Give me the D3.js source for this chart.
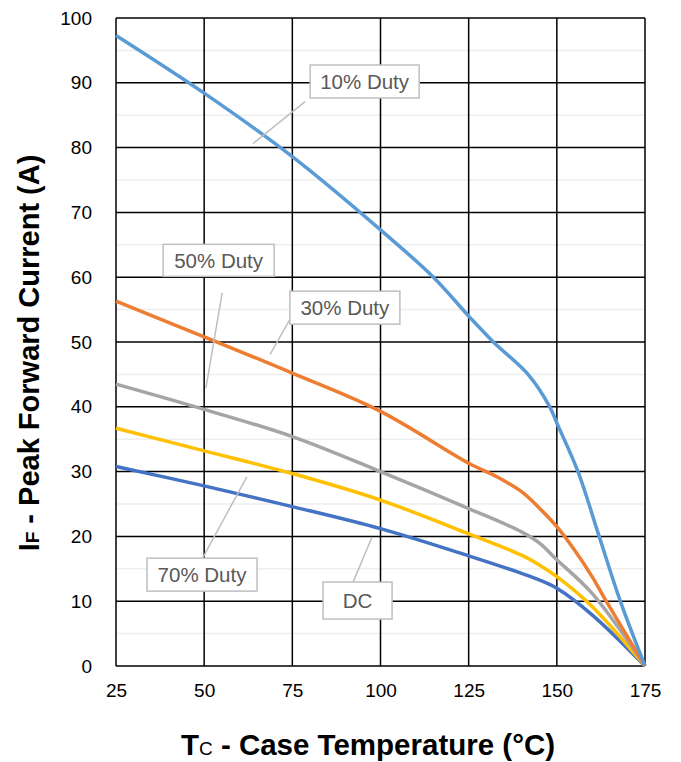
<!DOCTYPE html>
<html>
<head>
<meta charset="utf-8">
<script src="https://cdn.jsdelivr.net/npm/d3@7"></script>
<style>
  body { margin: 0; background: #fff; }
  text { font-family: Arial, "Liberation Sans", sans-serif; }
</style>
</head>
<body>
<div id="chart"></div>
<script>
// Data
const tempsLow = [25, 50, 75, 100, 125, 140, 145, 150, 160, 175];
const dcVals   = [30.8, 27.8, 24.6, 21.2, 17.0, 14.3, 13.3, 12.0, 7.9, 0];
const duty70   = [36.7, 33.2, 29.7, 25.6, 20.4, 17.1, 15.6, 13.8, 9.2, 0];
const duty30   = [43.5, 39.6, 35.4, 30.0, 24.3, 20.7, 19.0, 16.4, 11.2, 0];
const temps50  = [25, 50, 75, 100, 125, 133, 140, 145, 150, 155, 160, 164, 175];
const duty50   = [56.3, 50.8, 45.2, 39.3, 31.3, 29.2, 26.9, 24.4, 21.5, 17.9, 13.8, 10, 0];
const temps10  = [25, 50, 75, 100, 115, 125, 132, 142, 148, 150, 156, 162, 168, 175];
const duty10   = [97.3, 88.4, 78.6, 67.3, 60, 54, 50, 44.9, 40, 37.5, 30, 20, 10, 0];

const xTicks = [25, 50, 75, 100, 125, 150, 175];
const yTicks = [0, 10, 20, 30, 40, 50, 60, 70, 80, 90, 100];

const series = [
  {name: 'DC', x: tempsLow, y: dcVals, color: '#4472C4'},
  {name: '70% Duty', x: tempsLow, y: duty70, color: '#FFC000'},
  {name: '30% Duty', x: tempsLow, y: duty30, color: '#A5A5A5'},
  {name: '50% Duty', x: temps50, y: duty50, color: '#ED7D31'},
  {name: '10% Duty', x: temps10, y: duty10, color: '#5B9BD5'}
];

// Callouts: box center and leader ends, in data units; box size in px
const callouts = [
  {text: '10% Duty', cx: 95.5, cy: 90.2, w: 109, h: 33, lx0: 78.6, ly0: 87.1, lx1: 63.8, ly1: 80.6},
  {text: '50% Duty', cx: 54.1, cy: 62.6, w: 111, h: 32, lx0: 55.1, ly0: 57.6, lx1: 50.5, ly1: 42.9},
  {text: '30% Duty', cx: 89.9, cy: 55.3, w: 110, h: 33, lx0: 76.0, ly0: 55.1, lx1: 68.7, ly1: 48.1},
  {text: '70% Duty', cx: 49.4, cy: 14.1, w: 110, h: 33, lx0: 49.7, ly0: 16.8, lx1: 62.1, ly1: 29.2},
  {text: 'DC', cx: 93.5, cy: 10.1, w: 69, h: 37, lx0: 92.2, ly0: 12.9, lx1: 97.6, ly1: 19.9}
];

const margin = {top: 18, right: 36, bottom: 96, left: 116};
const W = 681, H = 762;
const width = W - margin.left - margin.right;
const height = H - margin.top - margin.bottom;

const svg = d3.select('#chart').append('svg')
    .attr('width', W)
    .attr('height', H);

const g = svg.append('g')
    .attr('transform', `translate(${margin.left},${margin.top})`);

const x = d3.scaleLinear().domain([25, 175]).range([0, width]);
const y = d3.scaleLinear().domain([0, 100]).range([height, 0]);

// Minor gridlines every 5
g.append('g')
    .selectAll('line')
    .data(d3.range(5, 100, 10))
    .enter().append('line')
    .attr('x1', 0).attr('x2', width)
    .attr('y1', d => y(d)).attr('y2', d => y(d))
    .attr('stroke', '#eeeeee')
    .attr('stroke-width', 1.5);

// Major gridlines
g.append('g')
    .selectAll('line')
    .data(yTicks)
    .enter().append('line')
    .attr('x1', 0).attr('x2', width)
    .attr('y1', d => y(d)).attr('y2', d => y(d))
    .attr('stroke', '#000')
    .attr('stroke-width', 1.5);

g.append('g')
    .selectAll('line')
    .data(xTicks)
    .enter().append('line')
    .attr('y1', 0).attr('y2', height)
    .attr('x1', d => x(d)).attr('x2', d => x(d))
    .attr('stroke', '#000')
    .attr('stroke-width', 1.5);

// Axes (labels only)
const xAxis = g.append('g')
    .attr('transform', `translate(0,${height})`)
    .call(d3.axisBottom(x).tickValues(xTicks).tickSize(0).tickPadding(18));
xAxis.select('.domain').remove();
xAxis.selectAll('text').attr('font-size', 19).attr('fill', '#000')
    .attr('font-family', 'Arial, "Liberation Sans", sans-serif');

const yAxis = g.append('g')
    .call(d3.axisLeft(y).tickValues(yTicks).tickSize(0).tickPadding(24));
yAxis.select('.domain').remove();
yAxis.selectAll('text').attr('font-size', 19).attr('fill', '#000')
    .attr('font-family', 'Arial, "Liberation Sans", sans-serif');

// Lines
const line = d3.line()
    .x(d => x(d[0]))
    .y(d => y(d[1]))
    .curve(d3.curveCatmullRom.alpha(0.5));

g.selectAll('.series')
    .data(series)
    .enter().append('path')
    .attr('class', 'series')
    .attr('fill', 'none')
    .attr('stroke', d => d.color)
    .attr('stroke-width', 3.5)
    .attr('stroke-linejoin', 'round')
    .attr('d', d => line(d.x.map((t, i) => [t, d.y[i]])));

// Callouts
callouts.forEach(c => {
    g.append('line')
        .attr('x1', x(c.lx0)).attr('y1', y(c.ly0))
        .attr('x2', x(c.lx1)).attr('y2', y(c.ly1))
        .attr('stroke', '#bfbfbf')
        .attr('stroke-width', 1.5);
    g.append('rect')
        .attr('x', x(c.cx) - c.w / 2)
        .attr('y', y(c.cy) - c.h / 2)
        .attr('width', c.w)
        .attr('height', c.h)
        .attr('fill', '#fff')
        .attr('stroke', '#bfbfbf')
        .attr('stroke-width', 1.5);
    g.append('text')
        .attr('x', x(c.cx))
        .attr('y', y(c.cy))
        .attr('dy', '0.36em')
        .attr('text-anchor', 'middle')
        .attr('font-size', 20.5)
        .attr('fill', '#595959')
        .text(c.text);
});

// Axis titles
const xt = svg.append('text')
    .attr('x', 368)
    .attr('y', 755)
    .attr('text-anchor', 'middle')
    .attr('font-size', 29.5)
    .attr('font-weight', 'bold');
xt.append('tspan').text('T');
xt.append('tspan').attr('font-size', 19).attr('font-weight', 'normal').text('C');
xt.append('tspan').text(' - Case Temperature (°C)');

const yt = svg.append('text')
    .attr('transform', `translate(39,353) rotate(-90)`)
    .attr('text-anchor', 'middle')
    .attr('font-size', 29)
    .attr('font-weight', 'bold');
yt.append('tspan').text('I');
yt.append('tspan').attr('font-size', 19).text('F');
yt.append('tspan').text(' - Peak Forward Current (A)');
</script>
</body>
</html>
